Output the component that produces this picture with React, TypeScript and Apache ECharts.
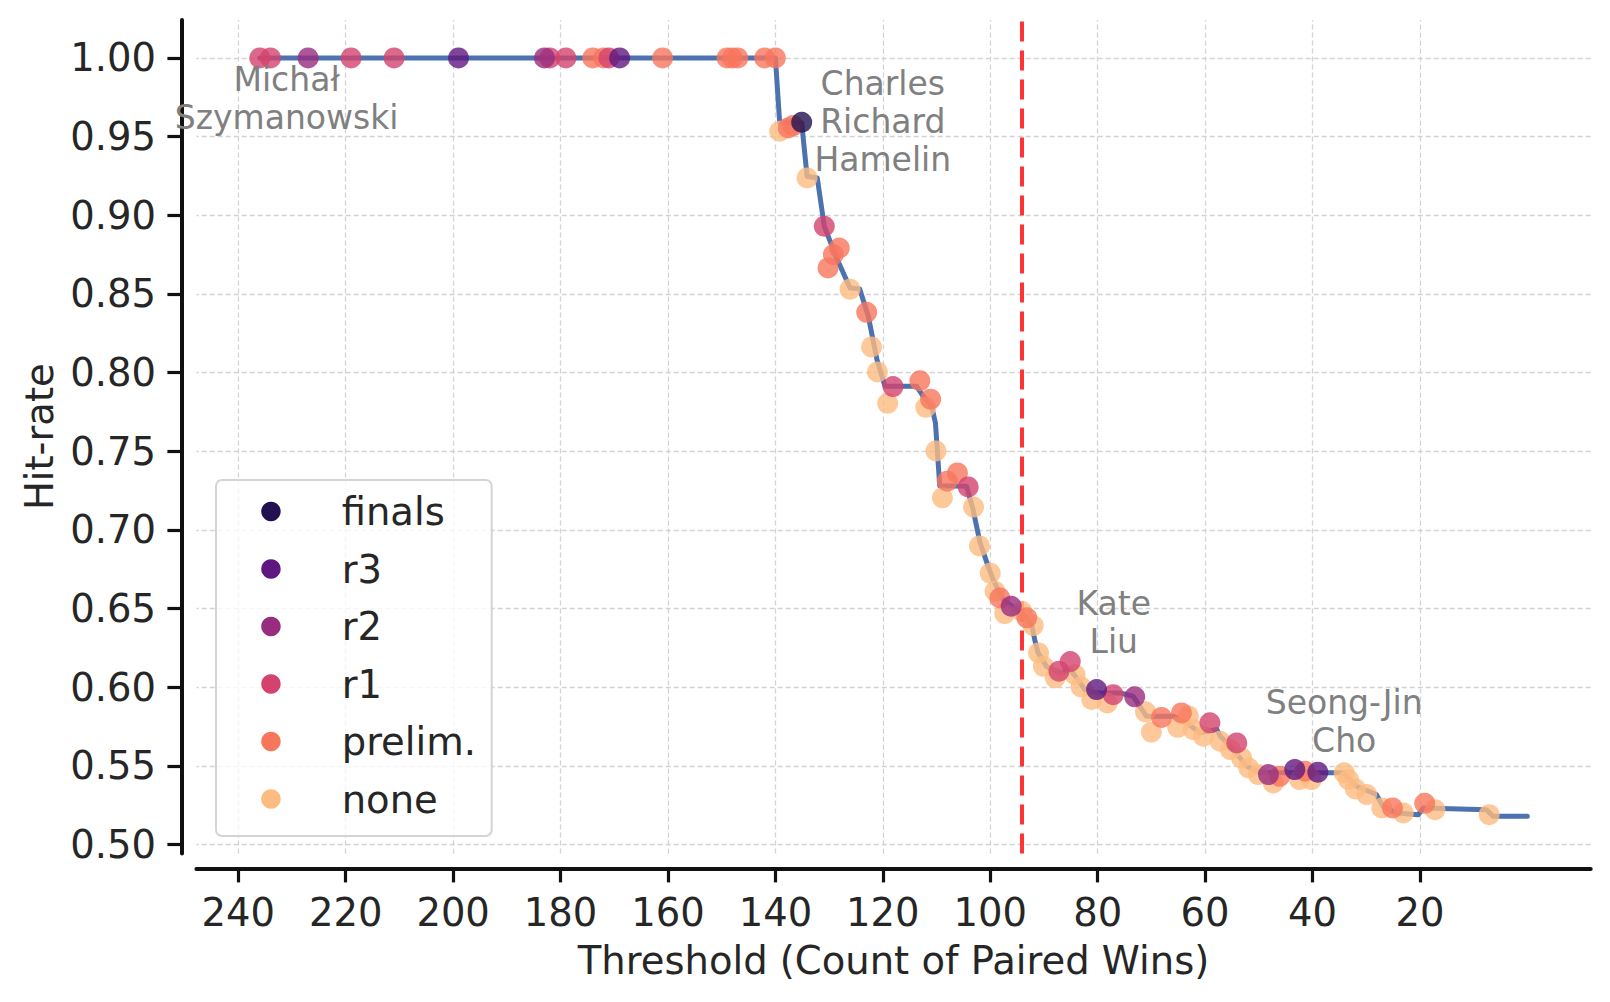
import React, { useEffect, useRef } from "react";
import * as echarts from "echarts";

const X_TICKS = [240, 220, 200, 180, 160, 140, 120, 100, 80, 60, 40, 20];
const Y_TICKS = [0.5, 0.55, 0.6, 0.65, 0.7, 0.75, 0.8, 0.85, 0.9, 0.95, 1.0];
const X_RANGE = [-11.8, 247.8];
const Y_RANGE = [0.4944, 1.0241];
const THRESHOLD_MARK = [94.2];

const CATEGORIES = ["finals", "r3", "r2", "r1", "prelim.", "none"];
const CATEGORY_COLORS = ["#221150", "#5f187f", "#982d80", "#d3436e", "#f8765c", "#febb81"];

const HIT_RATE_CURVE = [
  [236, 1.0], [140, 1.0], [139.2, 0.9587], [135.1, 0.9587], [134.1, 0.9248], [132.2, 0.9237],
  [130.9, 0.893], [128.5, 0.872], [126.1, 0.8538], [124.3, 0.8532], [122.7, 0.8358], [121.1, 0.8083],
  [119.6, 0.7913], [113.7, 0.7913], [112.5, 0.785], [110.9, 0.7786], [110.2, 0.768], [109.4, 0.728],
  [104.4, 0.7277], [103.2, 0.713], [101.9, 0.692], [100.4, 0.677], [99.4, 0.668], [97.6, 0.6557],
  [96.0, 0.6515], [93.8, 0.6462], [92.3, 0.64], [91.7, 0.63], [91.1, 0.622], [89.5, 0.613],
  [87.0, 0.609], [85.1, 0.611], [83.9, 0.606], [82.4, 0.5985], [80.2, 0.5964], [75.8, 0.5964],
  [73.4, 0.5943], [70.9, 0.5815], [65.9, 0.5815], [63.4, 0.5774], [61.0, 0.571], [57.8, 0.5731],
  [57.2, 0.5689], [55.3, 0.5625], [52.2, 0.5498], [49.7, 0.5456], [37.3, 0.5456], [34.3, 0.5456],
  [31.8, 0.5371], [28.1, 0.5318], [26.9, 0.5243], [24.4, 0.5201], [20.3, 0.519], [19.4, 0.5233],
  [7.6, 0.5222], [6.4, 0.518], [0, 0.518],
];

const FINALS = [[135.1, 0.9591]];
const R3 = [[199, 1.0], [169, 1.0], [80.2, 0.5985], [43.3, 0.5477], [39.0, 0.546]];
const R2 = [[227, 1.0], [183, 1.0], [96.1, 0.6515], [73.1, 0.5939], [48.2, 0.5445]];
const R1 = [
  [236, 1.0], [234, 1.0], [219, 1.0], [211, 1.0], [182, 1.0], [179, 1.0], [171, 1.0],
  [130.9, 0.893], [118.1, 0.7911], [104.1, 0.7273], [87.2, 0.6102], [85.1, 0.6163],
  [77.1, 0.5953], [59.1, 0.5774], [54.1, 0.5646],
];
const PRELIM = [
  [174, 1.0], [172, 1.0], [161, 1.0], [149, 1.0], [148, 1.0], [147, 1.0], [142, 1.0], [140, 1.0],
  [137.6, 0.9555], [136.7, 0.957], [128.1, 0.8792], [129.2, 0.875], [130.2, 0.8665], [123.0, 0.8383],
  [113.1, 0.7948], [111.1, 0.7831], [106.1, 0.7362], [108.0, 0.731], [98.2, 0.6568], [93.2, 0.6441],
  [68.1, 0.5808], [64.4, 0.5837], [46.1, 0.5434], [41.4, 0.5466], [25.1, 0.5233], [19.1, 0.5262],
];
const NONE = [
  [139.2, 0.9534], [134.1, 0.9237], [126.1, 0.853], [122.1, 0.8163], [121.0, 0.8004], [119.1, 0.7805],
  [112.0, 0.7779], [110.1, 0.7502], [108.9, 0.7204], [103.1, 0.7145], [102.0, 0.6898], [100.0, 0.6725],
  [99.1, 0.661], [97.3, 0.6468], [94.1, 0.6483], [92.0, 0.6392], [91.0, 0.6218], [90.1, 0.6133],
  [87.9, 0.606], [84.2, 0.608], [83.1, 0.6003], [81.1, 0.5922], [78.2, 0.59], [71.1, 0.5844],
  [70.0, 0.5715], [65.1, 0.5745], [63.1, 0.5818], [62.2, 0.5731], [60.3, 0.5689], [57.2, 0.5657],
  [55.3, 0.5604], [53.2, 0.5551], [51.9, 0.5488], [50.1, 0.5445], [47.3, 0.5392], [42.4, 0.5413],
  [40.2, 0.5413], [34.1, 0.5456], [33.3, 0.5413], [32.0, 0.5354], [29.9, 0.5318], [27.1, 0.5233],
  [23.1, 0.5201], [17.2, 0.5222], [7.1, 0.519],
];
const CATEGORY_POINTS = [FINALS, R3, R2, R1, PRELIM, NONE];

const ANNOTATION_TEXTS = ["Michał\nSzymanowski", "Charles\nRichard\nHamelin", "Kate\nLiu", "Seong-Jin\nCho"];
const ANNOTATION_ANCHORS = [[231.0, 0.9741], [120.0, 0.9597], [77.0, 0.6414], [34.1, 0.5785]];

const FONT = "DejaVu Sans";
const INK = "#262626";
const FS = 38.5;

export default function App() {
  const ref = useRef<HTMLDivElement>(null);
  useEffect(() => {
    if (!ref.current) return;
    const chart = echarts.init(ref.current, null, { renderer: "svg" });
    const scatterOrder = [5, 4, 3, 2, 1, 0];
    const option: any = {
      animation: false,
      backgroundColor: "#ffffff",
      textStyle: { fontFamily: FONT },
      grid: { left: 196.4, right: 19.3, top: 20, bottom: 148.6, containLabel: false },
      xAxis: {
        type: "value",
        inverse: true,
        min: X_RANGE[0],
        max: X_RANGE[1],
        offset: 15,
        name: "Threshold (Count of Paired Wins)",
        nameLocation: "middle",
        nameGap: 73,
        nameTextStyle: { fontSize: FS, color: INK, fontFamily: FONT },
        axisLine: { show: true, onZero: false, lineStyle: { color: "#111", width: 4 } },
        axisTick: { show: true, length: 14, lineStyle: { color: "#111", width: 3.2 }, customValues: X_TICKS },
        axisLabel: {
          customValues: X_TICKS,
          fontSize: FS, color: INK, fontFamily: FONT, margin: 25,
          formatter: (v: number) => String(Math.round(v)),
        },
        splitLine: { show: false },
      },
      yAxis: {
        type: "value",
        min: Y_RANGE[0],
        max: Y_RANGE[1],
        offset: 15,
        name: "Hit-rate",
        nameLocation: "middle",
        nameGap: 122,
        nameTextStyle: { fontSize: FS, color: INK, fontFamily: FONT },
        axisLine: { show: true, onZero: false, lineStyle: { color: "#111", width: 4 } },
        axisTick: { show: true, length: 14, lineStyle: { color: "#111", width: 3.2 }, customValues: Y_TICKS },
        axisLabel: {
          customValues: Y_TICKS,
          fontSize: FS, color: INK, fontFamily: FONT, margin: 25.5,
          formatter: (v: number) => v.toFixed(2),
        },
        splitLine: { show: false },
      },
      legend: {
        orient: "vertical",
        left: 261.2,
        top: 492,
        padding: 0,
        itemWidth: 19.5,
        itemHeight: 19.5,
        itemGap: 18.5,
        icon: "circle",
        selectedMode: false,
        z: 110,
        itemStyle: { opacity: 1 },
        textStyle: { fontSize: FS, color: INK, fontFamily: FONT, lineHeight: 38, padding: [0, 0, 0, 56] },
        data: CATEGORIES.map((name) => ({ name, itemStyle: { opacity: 1 } })),
      },
      graphic: {
        elements: [
          {
            type: "rect",
            z: 100,
            shape: { x: 216, y: 480, width: 275.7, height: 356, r: 6 },
            style: { fill: "rgba(255,255,255,0.8)", stroke: "#d4d4d4", lineWidth: 2 },
            silent: true,
          },
        ],
      },
      series: [
        {
          name: "_grid",
          type: "line",
          data: [],
          silent: true,
          markLine: {
            z: 0,
            silent: true,
            symbol: ["none", "none"],
            label: { show: false },
            emphasis: { disabled: true },
            lineStyle: { color: "#d3d3d3", width: 1.3, type: [5, 3] },
            data: [
              ...X_TICKS.map((v) => ({ xAxis: v })),
              ...Y_TICKS.map((v) => ({ yAxis: v })),
            ],
          },
        },
        {
          name: "curve",
          type: "line",
          data: HIT_RATE_CURVE,
          showSymbol: false,
          symbol: "none",
          z: 2,
          lineStyle: { color: "#4c72b0", width: 5, cap: "round", join: "round" },
          markLine: {
            z: 1,
            silent: true,
            symbol: ["none", "none"],
            label: { show: false },
            emphasis: { disabled: true },
            lineStyle: { color: "#ff3333", width: 4, type: [20, 9] },
            data: THRESHOLD_MARK.map((v) => ({ xAxis: v })),
          },
        },
        ...scatterOrder.map((i) => ({
          name: CATEGORIES[i],
          type: "scatter",
          data: CATEGORY_POINTS[i],
          symbol: "circle",
          symbolSize: 21,
          z: 2,
          itemStyle: { color: CATEGORY_COLORS[i], opacity: 0.8 },
        })),
        {
          name: "_labels",
          type: "custom",
          z: 3,
          silent: true,
          data: ANNOTATION_ANCHORS.map((a, i) => [a[0], a[1], i]),
          renderItem: (params: any, api: any) => {
            const p = api.coord([api.value(0), api.value(1)]);
            const idx = api.value(2);
            return {
              type: "text",
              x: p[0],
              y: p[1],
              style: {
                text: ANNOTATION_TEXTS[idx],
                fill: "#808080",
                fontSize: 33,
                fontFamily: FONT,
                lineHeight: 38,
                align: "center",
                verticalAlign: "middle",
              },
            };
          },
        },
      ],
    };
    chart.setOption(option);
    return () => chart.dispose();
  }, []);
  return (
    <div
      ref={ref}
      style={{ position: "fixed", left: 0, top: 0, width: 1610, height: 1002, background: "#fff" }}
    />
  );
}
